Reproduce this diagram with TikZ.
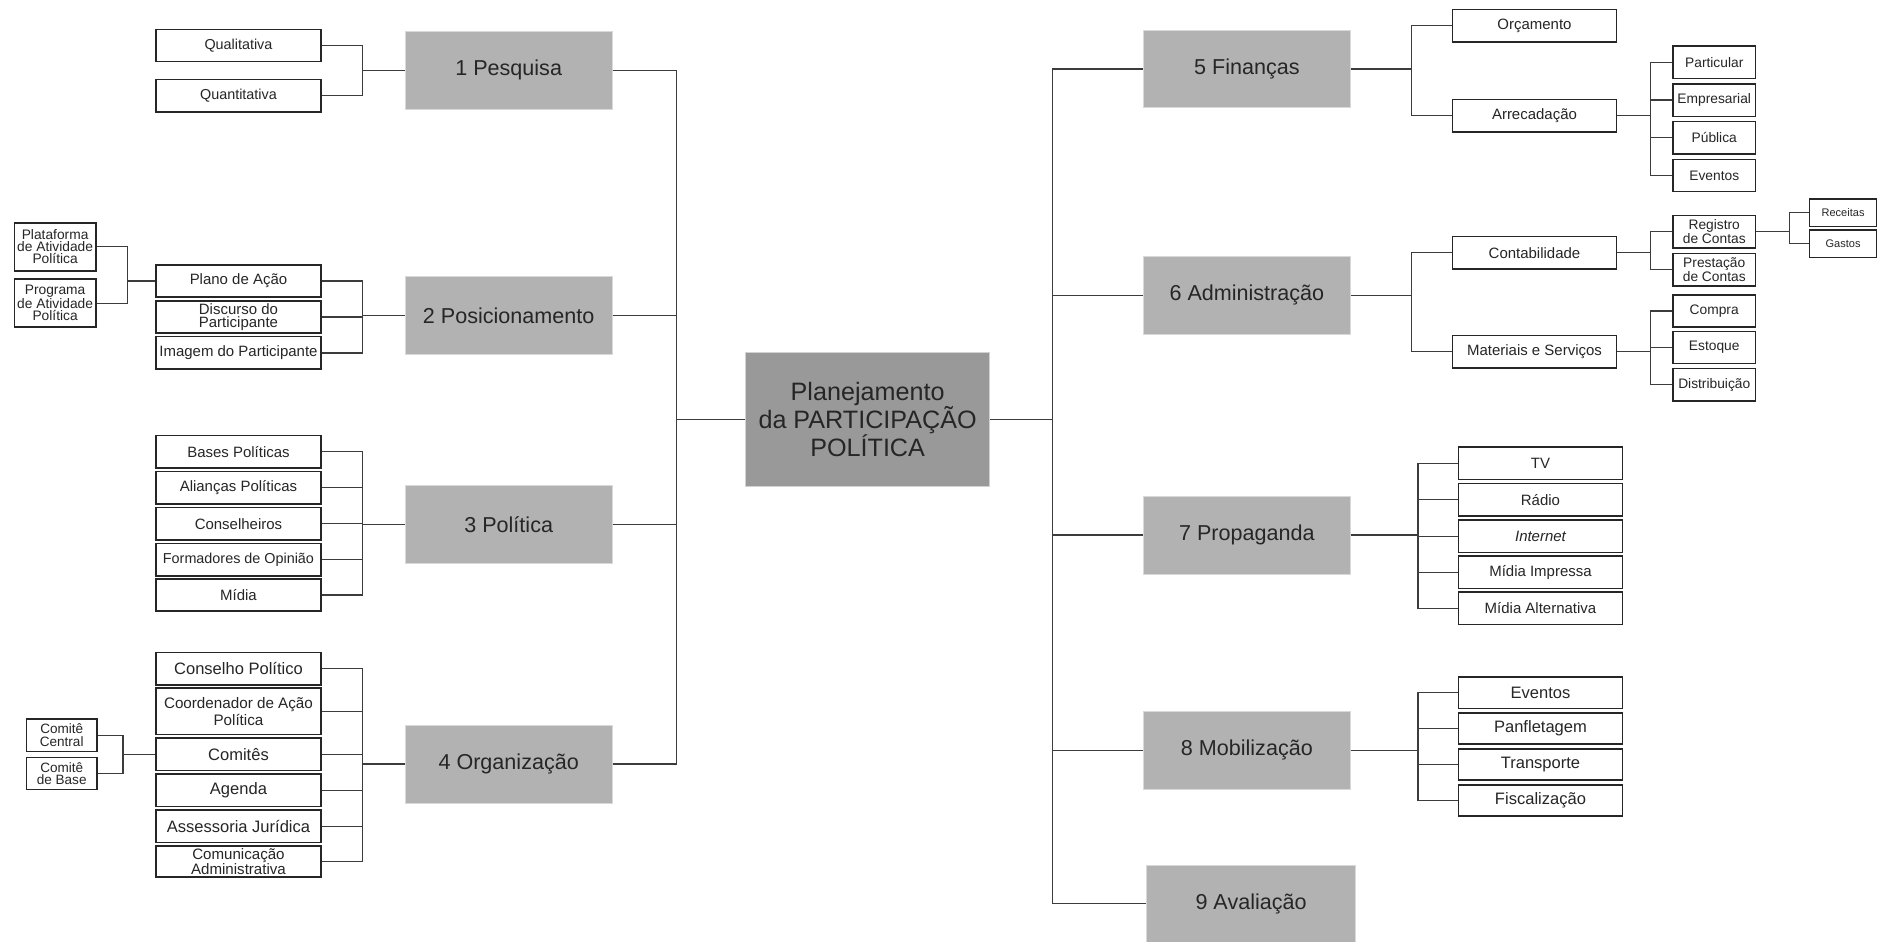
\documentclass[tikz,border=0pt]{standalone}
\usepackage{fontspec}
\setmainfont{Liberation Sans}
\usepackage{tikz}

\definecolor{cinzaraiz}{HTML}{999999}
\definecolor{cinzaeixo}{HTML}{B2B2B2}
\definecolor{traco}{HTML}{3C3C3C}
\newcommand{\fsz}[2]{\fontsize{#1}{#2}\selectfont}

\begin{document}
\begin{tikzpicture}[x=1pt, y=-1pt,
		raiz/.style={fill=cinzaraiz, draw=gray!35, line width=0.6pt, minimum width=204pt, minimum height=112pt, align=center, text=black!85, font=\fsz{21}{23.5}},
		eixo/.style={fill=cinzaeixo, draw=gray!30, line width=0.6pt, minimum width=173pt, minimum height=65pt, text=black!85, font=\fsz{18}{20}},
		caixa/.style={draw=black!85, fill=white, line width=1.2pt, inner sep=0pt, align=center, text=black!85, minimum width=138pt, minimum height=27pt, font=\fsz{12.5}{11}},
		caixag/.style={caixa, font=\fsz{13.8}{13}},
		caixap/.style={caixa, minimum width=69pt, font=\fsz{11.5}{10}},
		liga/.style={draw=traco, line width=1pt}]
	\useasboundingbox (0,0) rectangle (1568,786);

	\node[raiz] (plan) at (724,350) {Planejamento\\da PARTICIPAÇÃO\\POLÍTICA};

	\node[eixo] (pesq) at (424.5,58.5) {1 Pesquisa};
	\node[eixo] (posic) at (424.5,263.5) {2 Posicionamento};
	\node[eixo] (polit) at (424.5,437.5) {3 Política};
	\node[eixo] (organ) at (424.5,637.5) {4 Organização};
	\node[eixo] (finan) at (1040.5,57.5) {5 Finanças};
	\node[eixo] (admin) at (1040.5,246.5) {6 Administração};
	\node[eixo] (propag) at (1040.5,446.5) {7 Propaganda};
	\node[eixo] (mobil) at (1040.5,626) {8 Mobilização};
	\node[eixo, minimum width=174pt, minimum height=64pt] (aval) at (1044,754) {9 Avaliação};

	\node[caixa, font=\fsz{12}{11}] (qualit) at (199,38) {Qualitativa};
	\node[caixa, font=\fsz{12}{11}] (quantit) at (199,80) {Quantitativa};

	\node[caixa] (plano) at (199,234.5) {Plano de Ação};
	\node[caixa] (discurso) at (199,264.5) {Discurso do\\Participante};
	\node[caixa] (imagem) at (199,294.5) {Imagem do Participante};
	\node[caixap, minimum width=68pt, minimum height=40pt] (plataf) at (46,206) {Plataforma\\de Atividade\\Política};
	\node[caixap, minimum width=68pt, minimum height=40pt] (progr) at (46,253) {Programa\\de Atividade\\Política};

	\node[caixa] (bases) at (199,377) {Bases Políticas};
	\node[caixa] (aliancas) at (199,407) {Alianças Políticas};
	\node[caixa] (conselh) at (199,437) {Conselheiros};
	\node[caixa, font=\fsz{12}{11}] (formad) at (199,467) {Formadores de Opinião};
	\node[caixa] (midia) at (199,496.5) {Mídia};

	\node[caixag] (cpolit) at (199,558) {Conselho Político};
	\node[caixag, minimum height=39pt, font=\fsz{12.7}{14}] (coord) at (199,593.5) {Coordenador de Ação\\Política};
	\node[caixag] (comites) at (199,629.5) {Comitês};
	\node[caixag] (agenda) at (199,659.5) {Agenda};
	\node[caixag] (assess) at (199,689.5) {Assessoria Jurídica};
	\node[caixa, minimum height=26pt, font=\fsz{12.6}{11}] (comunic) at (199,719) {Comunicação\\Administrativa};
	\node[caixap, minimum width=59pt, font=\fsz{11.3}{10.3}] (ccentral) at (51.5,613.5) {Comitê\\Central};
	\node[caixap, minimum width=59pt, font=\fsz{11.3}{10.3}] (cbase) at (51.5,645.5) {Comitê\\de Base};

	\node[caixa, minimum width=137pt] (orcam) at (1280.5,21.5) {Orçamento};
	\node[caixa, minimum width=137pt] (arrec) at (1280.5,96.5) {Arrecadação};
	\node[caixap] (partic) at (1430.5,52) {Particular};
	\node[caixap] (empres) at (1430.5,83.5) {Empresarial};
	\node[caixap] (public) at (1430.5,115) {Pública};
	\node[caixap] (eventf) at (1430.5,146.5) {Eventos};

	\node[caixa, minimum width=137pt] (contab) at (1280.5,211) {Contabilidade};
	\node[caixa, minimum width=137pt] (mater) at (1280.5,293.5) {Materiais e Serviços};
	\node[caixap] (regist) at (1430.5,193.5) {Registro\\de Contas};
	\node[caixap] (prest) at (1430.5,225) {Prestação\\de Contas};
	\node[caixap, minimum width=56pt, minimum height=23pt, font=\fsz{9.2}{9}] (receit) at (1538,177.5) {Receitas};
	\node[caixap, minimum width=56pt, minimum height=23pt, font=\fsz{9.2}{9}] (gastos) at (1538,203.5) {Gastos};
	\node[caixap] (compra) at (1430.5,259.5) {Compra};
	\node[caixap] (estoq) at (1430.5,290) {Estoque};
	\node[caixap] (distrib) at (1430.5,321) {Distribuição};

	\node[caixa, minimum width=137pt] (tv) at (1285.5,386.5) {TV};
	\node[caixa, minimum width=137pt] (radio) at (1285.5,417) {Rádio};
	\node[caixa, minimum width=137pt] (internet) at (1285.5,447.5) {\itshape Internet};
	\node[caixa, minimum width=137pt] (impressa) at (1285.5,477.5) {Mídia Impressa};
	\node[caixa, minimum width=137pt] (altern) at (1285.5,507.5) {Mídia Alternativa};

	\node[caixag, minimum width=137pt, minimum height=26pt] (eventm) at (1285.5,578) {Eventos};
	\node[caixag, minimum width=137pt, minimum height=26pt] (panfl) at (1285.5,608) {Panfletagem};
	\node[caixag, minimum width=137pt, minimum height=26pt] (transp) at (1285.5,638) {Transporte};
	\node[caixag, minimum width=137pt, minimum height=26pt] (fiscal) at (1285.5,668) {Fiscalização};

	\foreach \a in {pesq,posic,polit,organ} \draw[liga] (\a.east) -- ++(53,0) |- (plan.west);
	\foreach \a in {finan,admin,propag,mobil,aval} \draw[liga] (plan.east) -- ++(52,0) |- (\a.west);

	\foreach \a in {qualit,quantit} \draw[liga] (\a.east) -- ++(34,0) |- (pesq.west);
	\foreach \a in {plano,discurso,imagem} \draw[liga] (\a.east) -- ++(34,0) |- (posic.west);
	\foreach \a in {plataf,progr} \draw[liga] (\a.east) -- ++(26,0) |- (plano.west);
	\foreach \a in {bases,aliancas,conselh,formad,midia} \draw[liga] (\a.east) -- ++(34,0) |- (polit.west);
	\foreach \a in {cpolit,coord,comites,agenda,assess,comunic} \draw[liga] (\a.east) -- ++(34,0) |- (organ.west);
	\foreach \a in {ccentral,cbase} \draw[liga] (\a.east) -- ++(21,0) |- (comites.west);

	\foreach \a in {orcam,arrec} \draw[liga] (finan.east) -- ++(50.5,0) |- (\a.west);
	\foreach \a in {partic,empres,public,eventf} \draw[liga] (arrec.east) -- ++(27.5,0) |- (\a.west);
	\foreach \a in {contab,mater} \draw[liga] (admin.east) -- ++(50.5,0) |- (\a.west);
	\foreach \a in {regist,prest} \draw[liga] (contab.east) -- ++(27.5,0) |- (\a.west);
	\foreach \a in {receit,gastos} \draw[liga] (regist.east) -- ++(28,0) |- (\a.west);
	\foreach \a in {compra,estoq,distrib} \draw[liga] (mater.east) -- ++(27.5,0) |- (\a.west);
	\foreach \a in {tv,radio,internet,impressa,altern} \draw[liga] (propag.east) -- ++(56,0) |- (\a.west);
	\foreach \a in {eventm,panfl,transp,fiscal} \draw[liga] (mobil.east) -- ++(56,0) |- (\a.west);

\end{tikzpicture}
\end{document}
